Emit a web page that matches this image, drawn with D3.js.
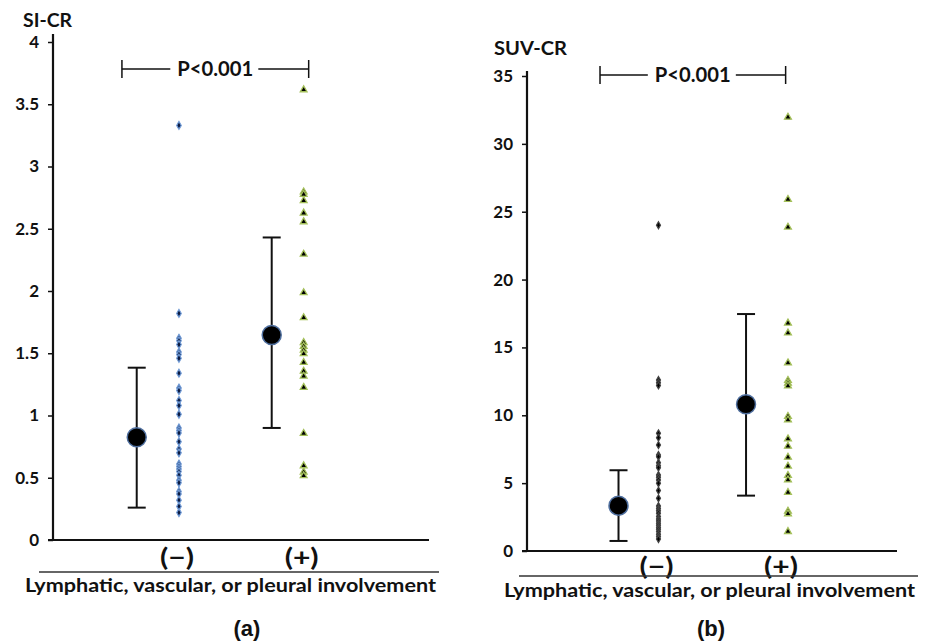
<!DOCTYPE html>
<html>
<head>
<meta charset="utf-8">
<script src="https://cdn.jsdelivr.net/npm/d3@7"></script>
<style>
  body { margin: 0; background: #fff; }
  text { font-family: Lato, "Liberation Sans", Arial, sans-serif; font-weight: bold; fill: #111; }
</style>
</head>
<body>
<script>
// ---- data ----
var categories = ["(\u2212)", "(+)"];

// panel (a) SI-CR
var siNeg = [3.33, 1.82, 1.62, 1.60, 1.57, 1.51, 1.49, 1.46, 1.34, 1.22, 1.20, 1.12, 1.08, 1.01,
             0.90, 0.88, 0.86, 0.79, 0.73, 0.70, 0.61, 0.59, 0.57, 0.55, 0.52, 0.48, 0.46,
             0.39, 0.37, 0.32, 0.27, 0.22];
var siPos = [3.62, 2.80, 2.78, 2.73, 2.63, 2.56, 2.30, 1.99, 1.79, 1.59, 1.56, 1.53, 1.50,
             1.43, 1.36, 1.32, 1.23, 0.86, 0.60, 0.55, 0.52];
var siMean = [0.825, 1.647];
var siLow  = [0.26, 0.90];
var siHigh = [1.384, 2.43];
var siTicks = [0, 0.5, 1, 1.5, 2, 2.5, 3, 3.5, 4];

// panel (b) SUV-CR
var suvNeg = [24.0, 12.6, 12.4, 12.2, 8.67, 8.35, 7.81, 7.08, 6.95, 6.51, 6.29, 6.14, 5.6, 5.43,
              5.23, 4.99, 4.45, 3.88, 3.32, 3.14, 2.97, 2.78, 2.55, 2.36, 2.21, 2.04, 1.9, 1.74,
              1.6, 1.43, 1.23, 1.06, 0.88];
var suvPos = [32.0, 25.94, 23.9, 16.83, 16.1, 13.9, 12.6, 12.4, 12.2, 9.95, 9.7, 8.3, 7.76,
              6.95, 6.29, 5.6, 5.28, 4.35, 2.97, 2.78, 1.47];
var suvMean = [3.34, 10.81];
var suvLow  = [0.74, 4.08];
var suvHigh = [5.95, 17.46];
var suvTicks = [0, 5, 10, 15, 20, 25, 30, 35];

var xLabel = "Lymphatic, vascular, or pleural involvement";

var width = 928, height = 642;

var svg = d3.select("body").append("svg")
    .attr("width", width)
    .attr("height", height);

function drawPanel(p) {
    var g = svg.append("g");

    var x = d3.scaleLinear().domain([0, 3]).range([p.x0, p.x1]);
    var y = d3.scaleLinear().domain([0, p.max]).range([p.y0, p.y1]);

    // y axis
    var yAxis = g.append("g")
        .attr("transform", "translate(" + p.x0 + ",0)")
        .call(d3.axisLeft(y).tickValues(p.ticks).tickFormat(d3.format("")).tickSize(5).tickSizeOuter(0).tickPadding(9));
    yAxis.select(".domain").remove();
    yAxis.selectAll(".tick line").attr("stroke", "#111").attr("stroke-width", 1.5);
    yAxis.selectAll(".tick text")
        .style("font-size", "17px")
        .style("font-family", "Lato, 'Liberation Sans', Arial, sans-serif")
        .style("font-weight", "bold")
        .attr("fill", "#111");

    g.append("line")
        .attr("x1", p.x0).attr("x2", p.x0)
        .attr("y1", p.y1 - p.axisTopExtra).attr("y2", p.y0)
        .attr("stroke", "#111").attr("stroke-width", 2.2);
    g.append("line")
        .attr("x1", p.x0 - 5).attr("x2", p.x1)
        .attr("y1", p.y0).attr("y2", p.y0)
        .attr("stroke", "#111").attr("stroke-width", 2.2);

    // axis title
    g.append("text")
        .attr("x", p.titleX).attr("y", p.titleY)
        .attr("textLength", p.titleW).attr("lengthAdjust", "spacingAndGlyphs")
        .style("font-size", "19px")
        .text(p.title);

    // error bars
    var bars = g.selectAll(".ebar").data(p.mean).enter().append("g");
    bars.append("line")
        .attr("x1", function(d, i) { return x(p.barX[i]); })
        .attr("x2", function(d, i) { return x(p.barX[i]); })
        .attr("y1", function(d, i) { return y(p.high[i]); })
        .attr("y2", function(d, i) { return y(p.low[i]); })
        .attr("stroke", "#111").attr("stroke-width", 2);
    [p.high, p.low].forEach(function(arr) {
        bars.append("line")
            .attr("x1", function(d, i) { return x(p.barX[i]) - 9; })
            .attr("x2", function(d, i) { return x(p.barX[i]) + 9; })
            .attr("y1", function(d, i) { return y(arr[i]); })
            .attr("y2", function(d, i) { return y(arr[i]); })
            .attr("stroke", "#111").attr("stroke-width", 2);
    });
    bars.append("circle")
        .attr("cx", function(d, i) { return x(p.barX[i]); })
        .attr("cy", function(d) { return y(d); })
        .attr("r", 9.5)
        .attr("fill", "#000")
        .attr("stroke", "#4f6f9f").attr("stroke-width", 1.5);

    // individual points
    var diamond = d3.symbol().type(d3.symbolDiamond).size(p.diamondSize);
    g.selectAll(".neg").data(p.neg).enter().append("path")
        .attr("d", diamond)
        .attr("transform", function(d) { return "translate(" + x(p.ptX[0]) + "," + y(d) + ")"; })
        .attr("fill", p.negFill)
        .attr("stroke", p.negStroke).attr("stroke-width", 1.2);

    var tri = d3.symbol().type(d3.symbolTriangle).size(20);
    g.selectAll(".pos").data(p.pos).enter().append("path")
        .attr("d", tri)
        .attr("transform", function(d) { return "translate(" + x(p.ptX[1]) + "," + (y(d) + 0.5) + ")"; })
        .attr("fill", "#000")
        .attr("stroke", "#a4c05a").attr("stroke-width", 1.3);

    // significance bracket
    var bl = x(p.brX[0]), br = x(p.brX[1]), by = p.brY;
    var mid = (bl + br) / 2;
    g.append("line").attr("x1", bl).attr("x2", bl).attr("y1", by - 9).attr("y2", by + 9)
        .attr("stroke", "#111").attr("stroke-width", 1.5);
    g.append("line").attr("x1", br).attr("x2", br).attr("y1", by - 9).attr("y2", by + 9)
        .attr("stroke", "#111").attr("stroke-width", 1.5);
    g.append("line").attr("x1", bl).attr("x2", mid - 45).attr("y1", by).attr("y2", by)
        .attr("stroke", "#111").attr("stroke-width", 1.5);
    g.append("line").attr("x1", mid + 43).attr("x2", br).attr("y1", by).attr("y2", by)
        .attr("stroke", "#111").attr("stroke-width", 1.5);
    g.append("text")
        .attr("x", mid).attr("y", by + 7)
        .attr("text-anchor", "middle")
        .attr("textLength", 76).attr("lengthAdjust", "spacingAndGlyphs")
        .style("font-size", "20px")
        .text("P<0.001");

    // category labels
    g.selectAll(".cat").data(categories).enter().append("text")
        .attr("x", function(d, i) { return x(p.ptX[i]) + p.catShift[i]; })
        .attr("y", p.catY)
        .attr("text-anchor", "middle")
        .attr("textLength", 34).attr("lengthAdjust", "spacingAndGlyphs")
        .style("font-size", "24px")
        .text(function(d) { return d; });

    g.append("line")
        .attr("x1", p.ulX0).attr("x2", p.ulX1)
        .attr("y1", p.ulY).attr("y2", p.ulY)
        .attr("stroke", "#333").attr("stroke-width", 1.5);

    g.append("text")
        .attr("x", p.lblX).attr("y", p.lblY)
        .attr("textLength", p.lblW).attr("lengthAdjust", "spacingAndGlyphs")
        .style("font-size", "18px")
        .text(xLabel);

    g.append("text")
        .attr("x", p.tagX).attr("y", 636)
        .attr("text-anchor", "middle")
        .style("font-family", "'Liberation Sans', Arial, sans-serif")
        .style("font-size", "22px")
        .text(p.tag);
}

drawPanel({
    x0: 53, x1: 429, y0: 540, y1: 42, max: 4, axisTopExtra: 8,
    ticks: siTicks, title: "SI-CR", titleX: 23, titleY: 27, titleW: 49,
    mean: siMean, low: siLow, high: siHigh,
    barX: [0.668, 1.745], ptX: [1.005, 2.0],
    neg: siNeg, pos: siPos,
    diamondSize: 18, negFill: "#0b1a40", negStroke: "#6f9ad6",
    brX: [0.55, 2.04], brY: 69,
    catShift: [-2, -2], catY: 566,
    ulX0: 39, ulX1: 439, ulY: 572,
    lblX: 25, lblY: 592, lblW: 411,
    tag: "(a)", tagX: 247
});

drawPanel({
    x0: 527, x1: 897, y0: 551, y1: 76, max: 35, axisTopExtra: 5,
    ticks: suvTicks, title: "SUV-CR", titleX: 494, titleY: 55, titleW: 73,
    mean: suvMean, low: suvLow, high: suvHigh,
    barX: [0.742, 1.776], ptX: [1.066, 2.116],
    neg: suvNeg, pos: suvPos,
    diamondSize: 14, negFill: "#000", negStroke: "#444",
    brX: [0.592, 2.097], brY: 75,
    catShift: [-2, -7], catY: 575,
    ulX0: 519, ulX1: 918, ulY: 576,
    lblX: 504, lblY: 597, lblW: 411,
    tag: "(b)", tagX: 711
});
</script>
</body>
</html>
